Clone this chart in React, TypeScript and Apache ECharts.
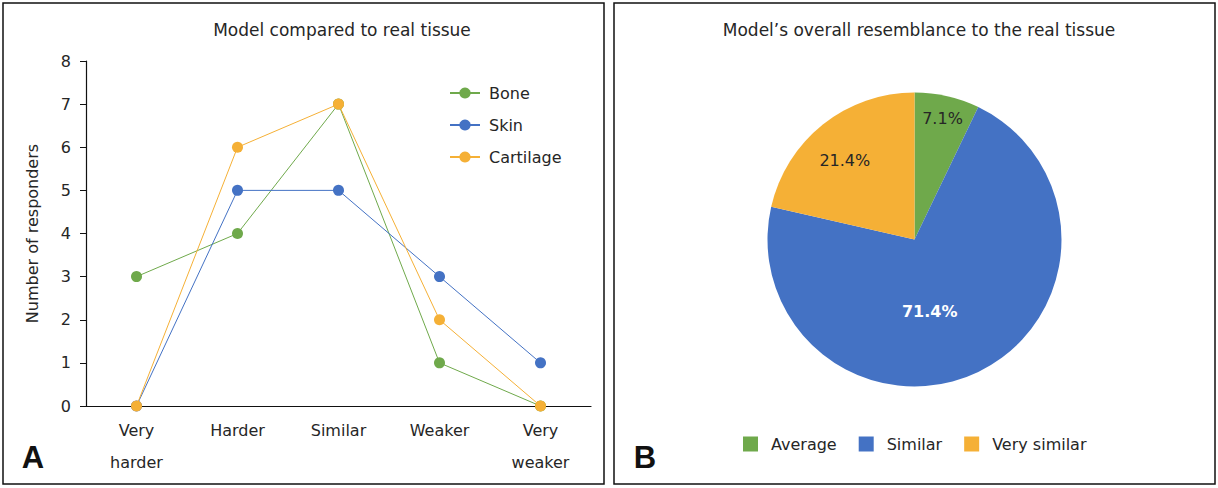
import React, { useEffect, useRef } from "react";
import * as echarts from "echarts";

const categories = ["Very\nharder", "Harder", "Similar", "Weaker", "Very\nweaker"];
const boneValues = [3, 4, 7, 1, 0];
const skinValues = [0, 5, 5, 3, 1];
const cartilageValues = [0, 6, 7, 2, 0];
const lineSeriesNames = ["Bone", "Skin", "Cartilage"];

const pieNames = ["Average", "Similar", "Very similar"];
const pieValues = [1, 10, 3];

const GREEN = "#6FA94B";
const BLUE = "#4472C4";
const ORANGE = "#F5B036";
const TEXT = "#262626";
const FONT = "'DejaVu Sans', sans-serif";

export default function App() {
  const ref = useRef<HTMLDivElement>(null);
  useEffect(() => {
    if (!ref.current) return;
    const chart = echarts.init(ref.current, null, { renderer: "svg" });
    const total = pieValues.reduce((a, b) => a + b, 0);
    const labelShift = [
      [11, -46],
      [-18, 3],
      [-22, -19],
    ];
    const colors = [GREEN, BLUE, ORANGE];
    const lineData = [boneValues, skinValues, cartilageValues];
    chart.setOption({
      animation: false,
      textStyle: { fontFamily: FONT, color: TEXT },
      title: [
        {
          text: "Model compared to real tissue",
          left: 337,
          top: 16,
          textAlign: "center",
          textStyle: { fontSize: 17, fontWeight: "normal", color: TEXT, fontFamily: FONT },
        },
        {
          text: "Model\u2019s overall resemblance to the real tissue",
          left: 914,
          top: 16,
          textAlign: "center",
          textStyle: { fontSize: 17, fontWeight: "normal", color: TEXT, fontFamily: FONT },
        },
      ],
      graphic: [
        { type: "rect", shape: { x: 3, y: 3, width: 601, height: 481 }, style: { fill: "none", stroke: "#111", lineWidth: 1.5 } },
        { type: "rect", shape: { x: 614, y: 3, width: 601, height: 481 }, style: { fill: "none", stroke: "#111", lineWidth: 1.5 } },
        { type: "text", x: 33, y: 457, style: { text: "A", font: "bold 31px 'Liberation Sans', Arial, sans-serif", fill: "#111", align: "center", verticalAlign: "middle" } },
        { type: "text", x: 645, y: 457, style: { text: "B", font: "bold 31px 'Liberation Sans', Arial, sans-serif", fill: "#111", align: "center", verticalAlign: "middle" } },
      ],
      legend: [
        {
          data: lineSeriesNames,
          orient: "vertical",
          left: 444,
          top: 80,
          itemWidth: 30,
          itemHeight: 14,
          itemGap: 16,
          textStyle: { fontSize: 16, lineHeight: 14, color: TEXT, fontFamily: FONT, padding: [0, 0, 0, 4] },
        },
        {
          data: pieNames,
          orient: "horizontal",
          left: 738,
          top: 431,
          icon: "rect",
          itemWidth: 15,
          itemHeight: 15,
          itemGap: 22,
          textStyle: { fontSize: 16, lineHeight: 15, color: TEXT, fontFamily: FONT, padding: [0, 0, 0, 8] },
        },
      ],
      grid: { left: 86, top: 61, width: 505, height: 345 },
      xAxis: {
        type: "category",
        data: categories,
        boundaryGap: true,
        axisLine: { lineStyle: { color: "#111", width: 1.2 } },
        axisTick: { show: false },
        axisLabel: { fontSize: 16, color: TEXT, lineHeight: 32, margin: 8, interval: 0, fontFamily: FONT },
      },
      yAxis: {
        type: "value",
        min: 0,
        max: 8,
        interval: 1,
        name: "Number of responders",
        nameLocation: "middle",
        nameGap: 46,
        nameTextStyle: { fontSize: 16, color: TEXT, fontFamily: FONT },
        axisLine: { show: true, lineStyle: { color: "#111", width: 1.2 } },
        axisTick: { show: true, length: 6, lineStyle: { color: "#111" } },
        splitLine: { show: false },
        axisLabel: { fontSize: 16, color: TEXT, margin: 15, fontFamily: FONT },
      },
      series: [
        ...lineSeriesNames.map((name, i) => ({
          name,
          type: "line",
          data: lineData[i],
          symbol: "circle",
          symbolSize: 11,
          lineStyle: { color: colors[i], width: 1 },
          itemStyle: { color: colors[i] },
          z: 2 + i,
        })),
        {
          name: "Resemblance",
          type: "pie",
          center: [914.5, 239.5],
          radius: [0, 147],
          startAngle: 90,
          clockwise: true,
          data: pieNames.map((name, i) => ({
            name,
            value: pieValues[i],
            itemStyle: { color: colors[i] },
            label: i === 1 ? { color: "#fff", fontWeight: "bold" } : { color: TEXT },
          })),
          label: {
            show: true,
            position: "inside",
            fontSize: 16,
            fontFamily: FONT,
            formatter: (p: any) => ((p.value / total) * 100).toFixed(1) + "%",
          },
          labelLine: { show: false },
          labelLayout: (p: any) => ({ dx: labelShift[p.dataIndex][0], dy: labelShift[p.dataIndex][1] }),
          emphasis: { disabled: true },
        },
      ],
    });
    return () => chart.dispose();
  }, []);
  return <div ref={ref} style={{ position: "absolute", left: 0, top: 0, width: 1218, height: 488 }} />;
}
